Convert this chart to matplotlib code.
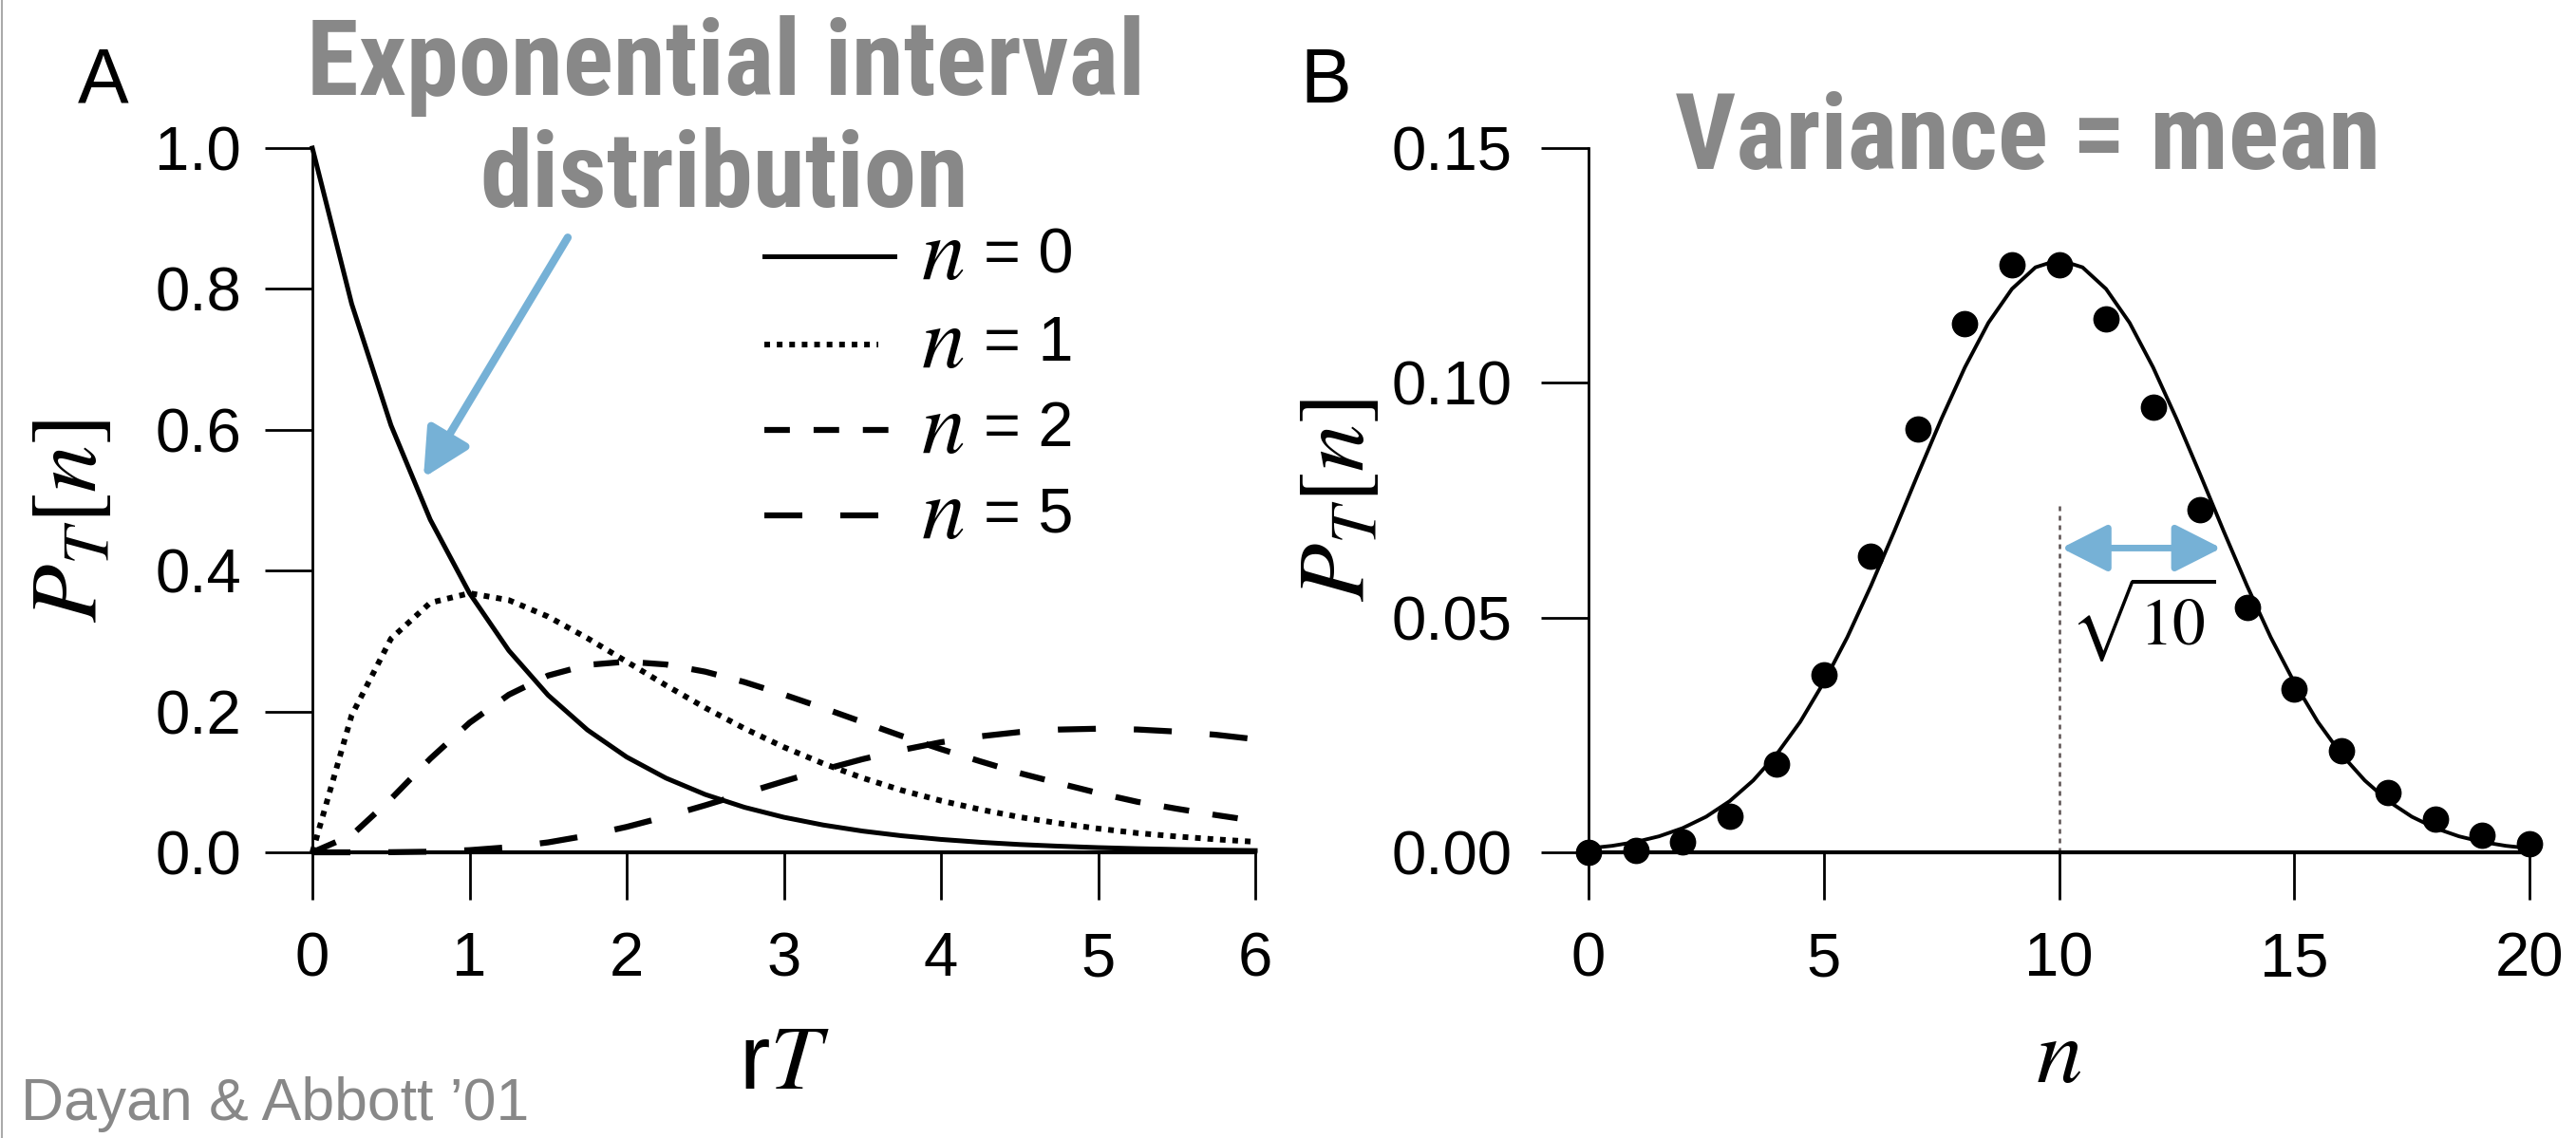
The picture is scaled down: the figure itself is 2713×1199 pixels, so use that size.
import numpy as np
import matplotlib
matplotlib.use('Agg')
import matplotlib.pyplot as plt
from matplotlib import font_manager
from matplotlib.lines import Line2D

# panel A: P_T[n] against rT, every 0.25
rt = [0.0, 0.25, 0.5, 0.75, 1.0, 1.25, 1.5, 1.75, 2.0, 2.25, 2.5, 2.75, 3.0,
      3.25, 3.5, 3.75, 4.0, 4.25, 4.5, 4.75, 5.0, 5.25, 5.5, 5.75, 6.0]
p_n0 = [1.0, 0.7788, 0.6065, 0.4724, 0.3679, 0.2865, 0.2231, 0.1738, 0.1353,
        0.1054, 0.0821, 0.0639, 0.0498, 0.0388, 0.0302, 0.0235, 0.0183,
        0.0143, 0.0111, 0.0087, 0.0067, 0.0052, 0.0041, 0.0032, 0.0025]
p_n1 = [0.0, 0.1947, 0.3033, 0.3543, 0.3679, 0.3581, 0.3347, 0.3041, 0.2707,
        0.2371, 0.2052, 0.1758, 0.1494, 0.1261, 0.1057, 0.0881, 0.0733,
        0.0608, 0.0500, 0.0413, 0.0337, 0.0273, 0.0225, 0.0184, 0.0149]
p_n2 = [0.0, 0.0243, 0.0758, 0.1329, 0.1839, 0.2238, 0.2510, 0.2661, 0.2707,
        0.2667, 0.2565, 0.2417, 0.2240, 0.2049, 0.1850, 0.1652, 0.1465,
        0.1292, 0.1125, 0.0981, 0.0842, 0.0717, 0.0619, 0.0529, 0.0446]
p_n5 = [0.0, 0.0000, 0.0002, 0.0009, 0.0031, 0.0073, 0.0141, 0.0238, 0.0361,
        0.0507, 0.0668, 0.0838, 0.1008, 0.1172, 0.1322, 0.1452, 0.1563,
        0.1647, 0.1708, 0.1743, 0.1755, 0.1744, 0.1714, 0.1669, 0.1606]
curve_labels = ['0', '1', '2', '5']

# panel B: counts with mean 10 (dots) and the smooth curve
n_counts = [0, 1, 2, 3, 4, 5, 6, 7, 8, 9, 10, 11, 12, 13, 14, 15, 16, 17, 18, 19, 20]
p_counts = [0.0000, 0.0005, 0.0023, 0.0076, 0.0189, 0.0378, 0.0631, 0.0901,
            0.1126, 0.1251, 0.1251, 0.1137, 0.0948, 0.0729, 0.0521, 0.0347,
            0.0217, 0.0128, 0.0071, 0.0037, 0.0019]
n_smooth = [0.0, 0.5, 1.0, 1.5, 2.0, 2.5, 3.0, 3.5, 4.0, 4.5, 5.0, 5.5, 6.0, 6.5,
            7.0, 7.5, 8.0, 8.5, 9.0, 9.5, 10.0, 10.5, 11.0, 11.5, 12.0, 12.5,
            13.0, 13.5, 14.0, 14.5, 15.0, 15.5, 16.0, 16.5, 17.0, 17.5, 18.0,
            18.5, 19.0, 19.5, 20.0]
p_smooth = [0.00085, 0.00138, 0.00220, 0.00341, 0.00515, 0.00758, 0.0109,
            0.0153, 0.0209, 0.0278, 0.0362, 0.0458, 0.0567, 0.0684, 0.0805,
            0.0923, 0.1033, 0.1128, 0.1200, 0.1246, 0.1262, 0.1246, 0.1200,
            0.1128, 0.1033, 0.0923, 0.0805, 0.0684, 0.0567, 0.0458, 0.0362,
            0.0278, 0.0209, 0.0153, 0.0109, 0.00758, 0.00515, 0.00341, 0.00220,
            0.00138, 0.00085]
mean_n = 10
sd_top = 0.074
arrow_y = 0.0648
arrow_x = [10.05, 13.45]

# pick a narrow bold face for the hand-written headings if one is there
available = {f.name for f in font_manager.fontManager.ttflist}
hand_font, hand_size = 'Liberation Sans', 66
for name, size in [('Roboto Condensed', 80), ('Liberation Sans Narrow', 80),
                   ('Open Sans Condensed', 80), ('Arial Narrow', 80)]:
    if name in available:
        hand_font, hand_size = name, size
        break

plt.rcParams['font.family'] = ['Liberation Sans', 'DejaVu Sans']
plt.rcParams['mathtext.fontset'] = 'stix'

GRAY = '#888888'
BLUE = '#76b1d6'
W, H = 2713, 1199

fig = plt.figure(figsize=(W / 100, H / 100), dpi=100)
axA = fig.add_axes([329 / W, 1 - 898 / H, 993 / W, 742 / H])
axB = fig.add_axes([1673 / W, 1 - 898 / H, 991 / W, 742 / H])


def style_axis(ax, ypad):
    for s in ['top', 'right']:
        ax.spines[s].set_visible(False)
    ax.spines['left'].set_linewidth(2)
    ax.spines['bottom'].set_linewidth(3)
    ax.tick_params(direction='out', length=36, width=2, labelsize=47)
    ax.tick_params(axis='x', pad=24)
    ax.tick_params(axis='y', pad=ypad)


# ---- panel A
styles = ['-', (0, (1.0, 1.2)), (0, (4.3, 4.0)), (0, (6.4, 6.4))]
widths = [3.6, 4.3, 4.5, 4.5]
for vals, ls, lw in zip([p_n0, p_n1, p_n2, p_n5], styles, widths):
    axA.plot(rt, vals, color='black', lw=lw, linestyle=ls, clip_on=False)

axA.set_xlim(0, 6)
axA.set_ylim(0, 1.0)
axA.set_xticks([0, 1, 2, 3, 4, 5, 6])
axA.set_yticks([0.0, 0.2, 0.4, 0.6, 0.8, 1.0])
axA.set_yticklabels(['0.0', '0.2', '0.4', '0.6', '0.8', '1.0'])
style_axis(axA, 18)

axA.set_xlabel(r'r$T$', fontsize=70)
axA.xaxis.label.set_va('baseline')
axA.xaxis.set_label_coords(0.5, -0.336)
axA.set_ylabel(r'$P_T[n]$', fontsize=72, va='center')
axA.yaxis.set_label_coords(-0.256, 0.47)

# legend drawn as short samples with mixed-size labels
leg_rows = [0.846, 0.721, 0.600, 0.478]
leg_ends = [0.617, 0.600, 0.617, 0.600]
for lab, ls, lw, yy, xe in zip(curve_labels, styles, widths, leg_rows, leg_ends):
    axA.plot([0.479, xe], [yy, yy], color='black', lw=lw, linestyle=ls,
             transform=axA.transAxes, clip_on=False)
    axA.text(0.668, yy, r'$n$', fontsize=66, ha='center', va='center',
             transform=axA.transAxes)
    axA.text(0.712, yy, '= ' + lab, fontsize=48, ha='left', va='center',
             transform=axA.transAxes)

axA.annotate('', xy=(0.707, 0.532), xytext=(1.625, 0.873),
             arrowprops=dict(arrowstyle='-|>,head_length=0.75,head_width=0.38',
                             mutation_scale=40, lw=6, color=BLUE,
                             shrinkA=0, shrinkB=0))

# ---- panel B
axB.plot(n_smooth, p_smooth, color='black', lw=2.8, clip_on=False)
axB.plot(n_counts, p_counts, 'o', color='black', ms=19, clip_on=False, zorder=3)
axB.vlines(mean_n, 0, sd_top, color='#5a5050', lw=1.8, linestyles=(0, (2, 2)))
axB.annotate('', xy=(arrow_x[1], arrow_y), xytext=(arrow_x[0], arrow_y),
             arrowprops=dict(arrowstyle='<|-|>,head_length=0.75,head_width=0.38',
                             mutation_scale=40, lw=5, color=BLUE,
                             shrinkA=0, shrinkB=0))
axB.text(11.77, 0.0497, r'$\sqrt{10}$', fontsize=50, ha='center', va='center')

axB.set_xlim(0, 20)
axB.set_ylim(0, 0.15)
axB.set_xticks([0, 5, 10, 15, 20])
axB.set_yticks([0.0, 0.05, 0.10, 0.15])
axB.set_yticklabels(['0.00', '0.05', '0.10', '0.15'])
style_axis(axB, 22)

axB.set_xlabel(r'$n$', fontsize=70)
axB.xaxis.label.set_va('baseline')
axB.xaxis.set_label_coords(0.5, -0.326)
axB.set_ylabel(r'$P_T[n]$', fontsize=72, va='center')
axB.yaxis.set_label_coords(-0.265, 0.50)

# ---- figure annotations
fig.text(82 / W, 1 - 108 / H, 'A', fontsize=58, va='baseline')
fig.text(1369 / W, 1 - 108 / H, 'B', fontsize=58, va='baseline')
fig.text(765 / W, 1 - 100 / H, 'Exponential interval', fontsize=hand_size,
         family=hand_font, weight='bold', color=GRAY, ha='center', va='baseline')
fig.text(763 / W, 1 - 218 / H, 'distribution', fontsize=hand_size,
         family=hand_font, weight='bold', color=GRAY, ha='center', va='baseline')
fig.text(2136 / W, 1 - 178 / H, 'Variance = mean', fontsize=hand_size,
         family=hand_font, weight='bold', color=GRAY, ha='center', va='baseline')
fig.text(22 / W, 1 - 1180 / H, 'Dayan & Abbott \u201901', fontsize=45,
         color=GRAY, va='baseline')
fig.add_artist(Line2D([0.0006, 0.0006], [0, 1], color='#aaaaaa', lw=1.5,
                      transform=fig.transFigure))

fig.savefig('out.png', dpi=100)
